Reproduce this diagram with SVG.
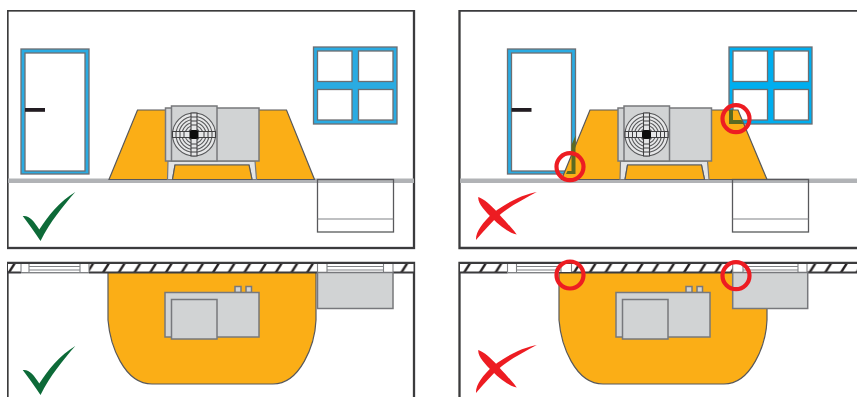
<svg xmlns="http://www.w3.org/2000/svg" width="857" height="397" viewBox="0 0 857 397">
<style>
.frame{fill:none;stroke:#3a3a3c;stroke-width:2.3}
.ground{stroke:#b1b3b6;stroke-width:4.6}
.glass{fill:#fff;stroke:#6d6e71;stroke-width:1.3}
.lb{fill:#29abe2;stroke:#6d6e71;stroke-width:1.3}
.rb{fill:#00aeef;stroke:#6d6e71;stroke-width:1.3}
.orange{fill:#fbae17;stroke:#58595b;stroke-width:1.2}
.grey{fill:#d1d3d4;stroke:#77787b;stroke-width:1.5}
.box{fill:none;stroke:#58595b;stroke-width:1.3}
.fan{fill:none;stroke:#58595b;stroke-width:1.1}
.ring{fill:none;stroke:#ed1c24;stroke-width:4.2}
.wall{stroke:#3a3a3c;stroke-width:2.2}
.thin{stroke:#808285;stroke-width:1.1}
.open{fill:#fff;stroke:none}
.bad{fill:#5a6a20}
</style>
<defs>
<filter id="soft" x="0" y="0" width="100%" height="100%"><feGaussianBlur stdDeviation="0.5"/></filter>
<pattern id="hatch" patternUnits="userSpaceOnUse" x="6" y="263" width="15.7" height="9.500">
<rect width="15.7" height="9.500" fill="#fff"/>
<path d="M1.500,9.500 L7.500,0 H10.300 L4.300,9.500Z" fill="#231f20"/>
</pattern>
<g id="elevUnit">
<path d="M168,161 H255 L256.500,179.500 H252 L249,165 H175 L172.500,179.500 H167.500Z" fill="#e3e4e5" stroke="#77787b" stroke-width="1.200"/>
<path d="M172.500,179.500 L175,165 H249 L252,179.500Z" class="orange"/>
<rect x="165.500" y="108" width="93.500" height="53" class="grey"/>
<rect x="171.500" y="106" width="45.500" height="55" class="grey"/>
<circle cx="194" cy="134.500" r="21.500" fill="#e6e7e8" stroke="#58595b" stroke-width="1.100"/>
<circle cx="194" cy="134.500" r="18" class="fan"/>
<circle cx="194" cy="134.500" r="15" class="fan"/>
<circle cx="194" cy="134.500" r="12" class="fan"/>
<circle cx="194" cy="134.500" r="9" class="fan"/>
<circle cx="194" cy="134.500" r="6" class="fan"/>
<path d="M172.500,131.500 H215.500 V137.500 H172.500Z M191,113 H197 V156 H191Z" fill="#e6e7e8" stroke="#414042" stroke-width="1.100"/>
<path d="M176,131.500 V137.500 M180,131.500 V137.500 M184,131.500 V137.500 M204,131.500 V137.500 M208,131.500 V137.500 M212,131.500 V137.500 M191,117 H197 M191,121 H197 M191,125 H197 M191,144 H197 M191,148 H197 M191,152 H197" stroke="#414042" stroke-width="1" fill="none"/>
<rect x="189.500" y="130" width="9" height="9" rx="2.500" fill="#111"/>
</g>
<g id="planUnit">
<rect x="235" y="286.500" width="6" height="6" class="grey"/>
<rect x="246" y="286.500" width="5.500" height="6" class="grey"/>
<rect x="165" y="292.500" width="94" height="44.500" class="grey"/>
<rect x="171.500" y="299.500" width="45.500" height="39.500" class="grey"/>
</g>
<path id="orangePlan" d="M108,272 V320 C110,345 124,384 152,384 H273 C300,384 315,345 316,320 V272Z" class="orange"/>
<path id="tick" d="M22.700,216 C29,215 34,221 39.300,229.500 C48,216 60,201 75.300,192 C63,206 50,222 40.500,241 C35,233 29,224 22.700,216Z" fill="#0b6b38"/>
<g id="cross" fill="#ed1c24">
<path d="M478.300,197 C484,199 491,205 498,213 C505,221 512,228 516.700,234.500 C508,232.500 500,226 492,218 C485,211 477.500,203 478.300,197Z"/>
<path d="M536.700,192 C526,198 512,205 502,213 C492,221 484,231 476,240 C475.500,232 483,222 493,213 C506,203 524,194 536.700,192Z"/>
</g>
</defs>
<rect width="857" height="397" fill="#fff"/>
<g filter="url(#soft)">
<g id="left-elevation">
<rect class="frame" x="7.500" y="10.500" width="406.500" height="237.500"/>
<line class="ground" x1="8" y1="180.800" x2="414" y2="180.800"/>
<g id="left-door"><rect class="lb" x="21" y="49" width="68" height="125"/><rect class="glass" x="25" y="53" width="60" height="118"/><rect x="25" y="108" width="20" height="3.800" fill="#231f20"/></g>
<g id="left-window"><rect class="lb" x="313.500" y="47" width="83.500" height="77"/><rect class="glass" x="317.500" y="51" width="34.500" height="30.500"/><rect class="glass" x="358.500" y="51" width="34.500" height="30.500"/><rect class="glass" x="317.500" y="89.500" width="34.500" height="30.500"/><rect class="glass" x="358.500" y="89.500" width="34.500" height="30.500"/></g>
<path id="left-zone" class="orange" d="M109,179.500 L137.500,110 H286.500 L314.500,179.500Z"/>
<use href="#elevUnit"/>
<g id="left-box"><rect class="box" x="317.500" y="179.500" width="76" height="52.500"/><line class="thin" x1="317.500" y1="219" x2="393.500" y2="219"/></g>
<use href="#tick"/>
</g>
<g id="right-elevation">
<path class="frame" d="M870,10.500 H459.500 V248 H870"/>
<line class="ground" x1="460" y1="180.800" x2="857" y2="180.800"/>
<g id="right-door"><rect class="lb" x="507.500" y="49" width="68" height="125"/><rect class="glass" x="511.500" y="53" width="60" height="118"/><rect x="511.500" y="108" width="20" height="3.800" fill="#231f20"/></g>
<g id="right-window"><rect class="rb" x="729" y="47" width="83" height="77"/><rect class="glass" x="733" y="51" width="34.500" height="30.500"/><rect class="glass" x="774" y="51" width="34.500" height="30.500"/><rect class="glass" x="733" y="89.500" width="34.500" height="30.500"/><rect class="glass" x="774" y="89.500" width="34.500" height="30.500"/></g>
<path id="right-zone" class="orange" d="M561.500,179.500 L590,110 H738 L767,179.500Z"/>
<path class="bad" d="M571.500,145 L575.500,135.500 V174 H566 L567.500,171 H571.500Z"/>
<path class="bad" d="M729,110 H733 V120 H741.500 L743.500,124 H729Z"/>
<g transform="translate(452.500 0)"><use href="#elevUnit"/></g>
<g id="right-box"><rect class="box" x="732.500" y="179.500" width="76" height="52.500"/><line class="thin" x1="732.500" y1="219" x2="808.500" y2="219"/></g>
<circle class="ring" cx="570" cy="166.700" r="13.500"/>
<circle class="ring" cx="736" cy="118.700" r="13.500"/>
<use href="#cross"/>
</g>
<g id="left-plan">
<path class="frame" d="M7.500,400 V263 H414 V400"/>
<use href="#orangePlan"/>
<rect x="8" y="263.500" width="405.500" height="9" fill="url(#hatch)"/>
<line class="wall" x1="7.500" y1="263" x2="414" y2="263"/>
<line class="wall" x1="7.500" y1="272.500" x2="414" y2="272.500"/>
<rect class="open" x="21" y="264" width="68" height="9.500"/>
<rect class="open" x="317.500" y="264" width="75.500" height="8"/>
<path class="thin" d="M21,264 V272 M29,264 V272 M80,264 V272 M89,264 V272 M29,266.500 H80 M29,270 H80 M21,272.500 H89 M317.500,264 V272 M327,264 V272 M383.500,264 V272 M393,264 V272 M327,266.500 H383.500 M327,270 H383.500" fill="none"/>
<rect id="left-plan-box" class="grey" x="317.500" y="272.500" width="75.500" height="36"/>
<use href="#planUnit"/>
<use href="#tick" y="154"/>
</g>
<g id="right-plan">
<path class="frame" d="M870,263 H459.500 V400"/>
<use href="#orangePlan" x="451"/>
<rect x="460" y="263.500" width="397" height="9" fill="url(#hatch)"/>
<line class="wall" x1="459.500" y1="263" x2="857" y2="263"/>
<line class="wall" x1="459.500" y1="272.500" x2="857" y2="272.500"/>
<rect class="open" x="507.500" y="264" width="64" height="8"/>
<rect class="open" x="507.500" y="271" width="51" height="2.500"/>
<rect class="open" x="732.700" y="264" width="74.300" height="8"/>
<path class="thin" d="M507.500,264 V272 M516.500,264 V272 M561,264 V272 M571.500,264 V272 M516.500,266.500 H561 M516.500,270 H561 M507.500,272.500 H559 M732.700,264 V272 M743,264 V272 M798,264 V272 M807,264 V272 M743,266.500 H798 M743,270 H798" fill="none"/>
<rect id="right-plan-box" class="grey" x="732.700" y="272.500" width="75" height="36"/>
<g transform="translate(451 0)"><use href="#planUnit"/></g>
<circle class="ring" cx="570" cy="275" r="13.500"/>
<circle class="ring" cx="736" cy="275.700" r="13.500"/>
<use href="#cross" y="153"/>
</g>
</g>
</svg>
